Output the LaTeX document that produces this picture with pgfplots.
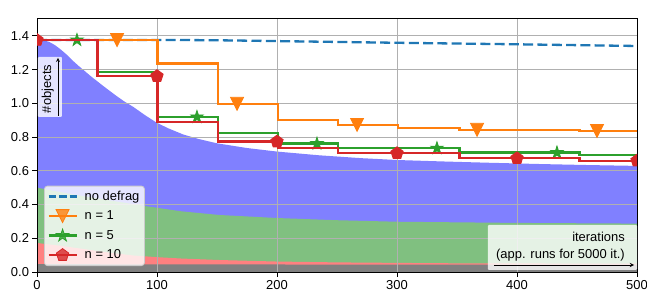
\documentclass[border=0pt]{standalone}
\usepackage{fontspec}
\setmainfont{Liberation Sans}
\usepackage{pgfplots}
\pgfplotsset{compat=1.18}
\definecolor{tabblue}{HTML}{1F77B4}
\definecolor{taborange}{HTML}{FF7F0E}
\definecolor{tabgreen}{HTML}{2CA02C}
\definecolor{tabred}{HTML}{D62728}
\definecolor{fillblue}{RGB}{128,128,255}
\definecolor{fillgreen}{RGB}{128,192,128}
\definecolor{fillred}{RGB}{255,128,128}
\definecolor{fillgray}{RGB}{128,128,128}
\definecolor{gridgray}{RGB}{176,176,176}
\definecolor{legedge}{RGB}{204,204,204}

\pgfdeclareplotmark{tridown}{%
  \pgfpathmoveto{\pgfqpoint{0pt}{-\pgfplotmarksize}}%
  \pgfpathlineto{\pgfqpoint{\pgfplotmarksize}{\pgfplotmarksize}}%
  \pgfpathlineto{\pgfqpoint{-\pgfplotmarksize}{\pgfplotmarksize}}%
  \pgfpathclose\pgfusepathqfillstroke}
\pgfdeclareplotmark{mstar}{%
  \pgfpathmoveto{\pgfpointpolar{90}{\pgfplotmarksize}}%
  \pgfpathlineto{\pgfpointpolar{126}{0.382\pgfplotmarksize}}%
  \pgfpathlineto{\pgfpointpolar{162}{\pgfplotmarksize}}%
  \pgfpathlineto{\pgfpointpolar{198}{0.382\pgfplotmarksize}}%
  \pgfpathlineto{\pgfpointpolar{234}{\pgfplotmarksize}}%
  \pgfpathlineto{\pgfpointpolar{270}{0.382\pgfplotmarksize}}%
  \pgfpathlineto{\pgfpointpolar{306}{\pgfplotmarksize}}%
  \pgfpathlineto{\pgfpointpolar{342}{0.382\pgfplotmarksize}}%
  \pgfpathlineto{\pgfpointpolar{18}{\pgfplotmarksize}}%
  \pgfpathlineto{\pgfpointpolar{54}{0.382\pgfplotmarksize}}%
  \pgfpathclose\pgfusepathqfillstroke}
\pgfdeclareplotmark{mpent}{%
  \pgfpathmoveto{\pgfpointpolar{90}{\pgfplotmarksize}}%
  \pgfpathlineto{\pgfpointpolar{162}{\pgfplotmarksize}}%
  \pgfpathlineto{\pgfpointpolar{234}{\pgfplotmarksize}}%
  \pgfpathlineto{\pgfpointpolar{306}{\pgfplotmarksize}}%
  \pgfpathlineto{\pgfpointpolar{18}{\pgfplotmarksize}}%
  \pgfpathclose\pgfusepathqfillstroke}

\pgfplotsset{legend image code/.code={\draw[mark repeat=2,mark phase=2,#1] plot coordinates {(0bp,0bp) (14bp,0bp) (28bp,0bp)};}}

\begin{document}
\begin{tikzpicture}[font=\fontsize{13}{15.6}\selectfont]
\begin{axis}[
  set layers,
  at={(0,0)}, anchor=south west,
  scale only axis, width=600bp, height=253bp,
  xmin=0, xmax=500, ymin=0, ymax=1.5,
  xtick={0,100,200,300,400,500},
  ytick={0,0.2,0.4,0.6,0.8,1.0,1.2,1.4},
  yticklabel style={/pgf/number format/fixed, /pgf/number format/precision=1, /pgf/number format/fixed zerofill},
  /pgf/number format/assume math mode=true,
  scaled y ticks=false,
  xmajorgrids, ymajorgrids,
  grid style={gridgray, line width=0.9bp},
  tick align=outside, major tick length=4.5bp,
  xtick pos=bottom, ytick pos=left,
  tick style={black, line width=1bp},
  axis line style={black, line width=1bp},
  clip marker paths=true,
  legend style={at={(0.0117,0.0237)}, anchor=south west, fill=white, fill opacity=0.8, draw opacity=1, text opacity=1, draw=legedge, rounded corners=3bp, line width=0.8bp, nodes={inner sep=2bp, text height=10bp, text depth=3bp}, row sep=2.5bp, column sep=5bp, inner xsep=3bp, inner ysep=2bp},
  legend cell align=left,
]
% stacked areas (drawn below the grid)
\addplot[draw=none, fill=fillblue, on layer=axis background, forget plot] coordinates {
(0,1.376)(5,1.374)(10,1.365)(15,1.345)(20,1.318)(25,1.287)(30,1.252)(35,1.22)(40,1.19)(45,1.16)(50,1.132)(55,1.104)(60,1.077)(66,1.045)(73,1.01)(80,0.98)(90,0.93)(100,0.884)(110,0.85)(122,0.815)(135,0.788)(150,0.763)(175,0.735)(200,0.714)(235,0.692)(270,0.675)(300,0.664)(340,0.655)(375,0.648)(420,0.64)(460,0.634)(500,0.629)
} \closedcycle;
\addplot[draw=none, fill=fillgreen, on layer=axis background, forget plot] coordinates {
(0,0.5)(30,0.46)(60,0.425)(91,0.39)(120,0.36)(152,0.338)(200,0.32)(250,0.307)(300,0.298)(400,0.291)(500,0.287)
} \closedcycle;
\addplot[draw=none, fill=fillred, on layer=axis background, forget plot] coordinates {
(0,0.172)(20,0.155)(40,0.135)(60,0.115)(80,0.098)(100,0.088)(120,0.08)(152,0.071)(200,0.062)(250,0.057)(336,0.052)(500,0.049)
} \closedcycle;
\addplot[draw=none, fill=fillgray, on layer=axis background, forget plot] coordinates {
(0,0.047)(100,0.045)(500,0.043)
} \closedcycle;

% no defrag
\addplot[tabblue, line width=2.3bp, dash pattern=on 10bp off 4.3bp, forget plot] coordinates {
(0,1.376)(100,1.376)(150,1.374)(200,1.369)(300,1.359)(400,1.35)(500,1.34)
};
\addlegendimage{tabblue, line width=2.3bp, dash pattern=on 7bp off 3.5bp}
\addlegendentry{no defrag}

% n = 1
\addplot[taborange, line width=2.3bp, const plot, forget plot] coordinates {
(0,1.375)(100.5,1.237)(151,0.997)(201,0.902)(251,0.872)(301,0.853)(352,0.843)(452,0.836)(500,0.836)
};
\addplot[taborange, only marks, mark=tridown, mark size=6.5bp, mark options={line width=0.8bp}, forget plot] coordinates {
(66.7,1.375)(166.7,0.997)(266.7,0.872)(366.7,0.843)(466.7,0.836)
};
\addlegendimage{taborange, line width=2.3bp, mark=tridown, mark size=6.5bp, mark options={line width=0.8bp}}
\addlegendentry{n = 1}

% n = 5
\addplot[tabgreen, line width=2.3bp, const plot, forget plot] coordinates {
(0,1.375)(50.5,1.186)(100.5,0.919)(151,0.826)(201,0.761)(251,0.734)(352,0.708)(452,0.694)(500,0.694)
};
\addplot[tabgreen, only marks, mark=mstar, mark size=6.5bp, mark options={line width=0.8bp}, forget plot] coordinates {
(33.3,1.375)(133.3,0.919)(233.3,0.761)(333.3,0.734)(433.3,0.708)
};
\addlegendimage{tabgreen, line width=2.3bp, mark=mstar, mark size=6.5bp, mark options={line width=0.8bp}}
\addlegendentry{n = 5}

% n = 10
\addplot[tabred, line width=2.3bp, const plot, forget plot] coordinates {
(0,1.375)(50.5,1.161)(100.5,0.89)(151,0.773)(201,0.734)(251,0.704)(352,0.674)(452,0.66)(500,0.66)
};
\addplot[tabred, only marks, mark=mpent, mark size=6.5bp, mark options={line width=0.8bp}, forget plot] coordinates {
(0,1.375)(100,1.161)(200,0.773)(300,0.704)(400,0.674)(500,0.66)
};
\addlegendimage{tabred, line width=2.3bp, mark=mpent, mark size=6.5bp, mark options={line width=0.8bp}}
\addlegendentry{n = 10}

% y label box
\fill[white, opacity=0.8, rounded corners=1bp] (axis cs:0.8,0.919) rectangle (axis cs:20.8,1.275);
\node[rotate=90, anchor=base, inner sep=0] at (axis cs:11.7,1.085) {\#objects};
\draw[-stealth, line width=0.9bp] (axis cs:17.5,0.925) -- (axis cs:17.5,1.27);

% x label box
\fill[white, opacity=0.8, rounded corners=1bp] (axis cs:375.8,0.012) rectangle (axis cs:500,0.279);
\node[anchor=base east, inner sep=0] at (axis cs:490,0.18) {iterations};
\node[anchor=base east, inner sep=0] at (axis cs:490,0.083) {(app. runs for 5000 it.)};
\draw[-stealth, line width=0.9bp] (axis cs:380.8,0.0415) -- (axis cs:497.5,0.0415);

\node[anchor=base west, inner sep=0, yshift=3.5bp] at (rel axis cs:0.001,1) {1e6};
\end{axis}
\pgfresetboundingbox
\path[use as bounding box] (-37bp,-26bp) rectangle (610bp,272bp);
\end{tikzpicture}
\end{document}
